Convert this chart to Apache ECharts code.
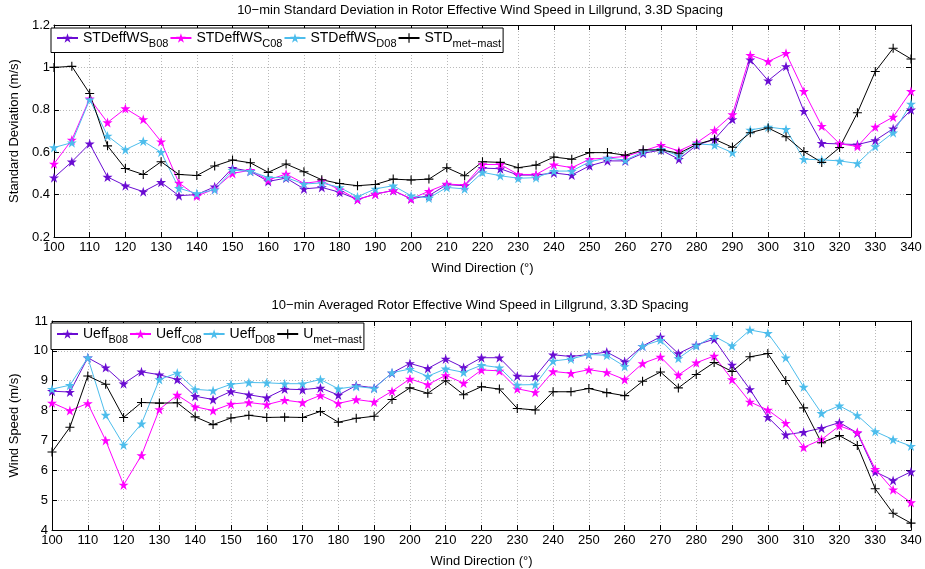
<!DOCTYPE html>
<html>
<head>
<meta charset="utf-8">
<script src="https://cdn.jsdelivr.net/npm/echarts@6/dist/echarts.min.js"></script>
<style>html,body{margin:0;padding:0;background:#fff}#c{width:925px;height:569px}</style>
</head>
<body>
<div id="c"></div>
<script>
const directions = [100,105,110,115,120,125,130,135,140,145,150,155,160,165,170,175,180,185,190,195,200,205,210,215,220,225,230,235,240,245,250,255,260,265,270,275,280,285,290,295,300,305,310,315,320,325,330,335,340];
const xTicks = {min: 100, max: 340, interval: 10};

const stdB08 = [0.48,0.555,0.64,0.483,0.442,0.414,0.458,0.395,0.40,0.437,0.525,0.51,0.462,0.478,0.427,0.434,0.411,0.377,0.403,0.419,0.38,0.395,0.447,0.442,0.525,0.522,0.492,0.492,0.502,0.492,0.536,0.559,0.559,0.595,0.61,0.567,0.633,0.661,0.755,1.036,0.9375,1.005,0.794,0.642,0.639,0.636,0.656,0.711,0.80];
const stdC08 = [0.545,0.658,0.853,0.74,0.806,0.755,0.65,0.455,0.393,0.427,0.50,0.515,0.469,0.497,0.453,0.464,0.423,0.377,0.402,0.42,0.38,0.416,0.45,0.445,0.542,0.542,0.495,0.495,0.541,0.527,0.567,0.573,0.58,0.606,0.633,0.606,0.645,0.703,0.778,1.058,1.028,1.067,0.8875,0.723,0.64,0.627,0.719,0.766,0.8875];
const stdD08 = [0.622,0.645,0.848,0.677,0.612,0.652,0.60,0.43,0.405,0.423,0.515,0.51,0.481,0.481,0.45,0.455,0.434,0.39,0.427,0.442,0.395,0.384,0.434,0.427,0.505,0.489,0.477,0.48,0.511,0.511,0.555,0.573,0.5625,0.602,0.614,0.583,0.639,0.634,0.598,0.705,0.719,0.708,0.567,0.564,0.559,0.547,0.627,0.692,0.828];
const stdMast = [1.0,1.005,0.877,0.63,0.523,0.495,0.555,0.495,0.49,0.535,0.563,0.55,0.505,0.544,0.508,0.47,0.452,0.442,0.448,0.473,0.469,0.473,0.527,0.489,0.555,0.552,0.527,0.539,0.577,0.567,0.598,0.598,0.586,0.611,0.611,0.595,0.637,0.661,0.623,0.692,0.714,0.673,0.603,0.552,0.622,0.786,0.981,1.09,1.04];

const ueffB08 = [8.65,8.62,9.77,9.44,8.9,9.30,9.20,9.04,8.48,8.37,8.64,8.53,8.43,8.72,8.7,8.76,8.52,8.84,8.76,9.26,9.58,9.41,9.73,9.44,9.77,9.77,9.16,9.14,9.87,9.81,9.88,9.96,9.64,10.16,10.47,9.91,10.2,10.39,9.53,8.71,7.78,7.19,7.28,7.41,7.6,7.25,5.95,5.66,5.95];
const ueffC08 = [8.26,8.0,8.24,7.0,5.51,6.5,8.04,8.52,8.13,8.0,8.22,8.27,8.2,8.35,8.27,8.51,8.24,8.37,8.29,8.65,9.06,8.87,9.18,8.92,9.36,9.33,8.73,8.61,9.31,9.25,9.37,9.28,9.04,9.58,9.80,9.19,9.6,9.83,9.04,8.29,8.02,7.58,6.77,7.03,7.49,7.27,6.04,5.35,4.92];
const ueffD08 = [8.72,8.85,9.77,7.85,6.85,7.56,9.04,9.26,8.71,8.67,8.88,8.94,8.93,8.9,8.9,9.04,8.73,8.81,8.74,9.27,9.39,9.15,9.4,9.28,9.52,9.44,8.86,8.87,9.66,9.73,9.88,9.85,9.48,10.16,10.36,9.75,10.17,10.49,10.17,10.70,10.59,9.77,8.79,7.91,8.16,7.84,7.3,7.03,6.81];
const uMast = [6.61,7.44,9.16,8.88,7.77,8.27,8.25,8.26,7.79,7.53,7.75,7.84,7.77,7.78,7.77,7.97,7.61,7.74,7.81,8.37,8.76,8.58,9.0,8.53,8.8,8.72,8.07,8.02,8.63,8.63,8.74,8.6,8.5,8.98,9.29,8.76,9.21,9.61,9.31,9.8,9.91,9.01,8.09,6.92,7.16,6.83,5.38,4.56,4.23];

const topTitle = '10\u2212min Standard Deviation in Rotor Effective Wind Speed in Lillgrund, 3.3D Spacing';
const botTitle = '10\u2212min Averaged Rotor Effective Wind Speed in Lillgrund, 3.3D Spacing';
const topNames = ['STDeffWS_B08','STDeffWS_C08','STDeffWS_D08','STD_met\u2212mast'];
const botNames = ['Ueff_B08','Ueff_C08','Ueff_D08','U_met\u2212mast'];
const topY = {min: 0.2, max: 1.2, interval: 0.2, name: 'Standard Deviation (m/s)'};
const botY = {min: 4, max: 11, interval: 1, name: 'Wind Speed (m/s)'};
const xName = 'Wind Direction (\u00b0)';

const FONT = '"Liberation Sans", Arial, Helvetica, sans-serif';
const C_B = '#6a0cd2', C_C = '#ff00ff', C_D = '#4dbdec', C_M = '#000000';
const STAR = 'path://M50,0 L61.23,34.55 L97.55,34.55 L68.16,55.9 L79.39,90.45 L50,69.1 L20.61,90.45 L31.84,55.9 L2.45,34.55 L38.77,34.55 Z';
const PLUS = 'path://M4.4,0 L5.6,0 L5.6,4.4 L10,4.4 L10,5.6 L5.6,5.6 L5.6,10 L4.4,10 L4.4,5.6 L0,5.6 L0,4.4 L4.4,4.4 Z';

const grids = [
  {left: 48, top: 25, width: 863, height: 212},
  {left: 48, top: 321, width: 863, height: 212}
];

function xAxes(g) {
  const common = {gridIndex: g, type: 'value', min: xTicks.min, max: xTicks.max, interval: xTicks.interval,
    axisLine: {show: true, onZero: false, lineStyle: {color: '#000', width: 1}},
    axisTick: {show: true, inside: true, length: 5, lineStyle: {color: '#000', width: 1}}};
  return [
    Object.assign({}, common, {position: 'bottom', name: xName, nameLocation: 'middle', nameGap: 25,
      nameTextStyle: {fontSize: 13, color: '#000', fontFamily: FONT},
      axisLabel: {fontSize: 13, color: '#000', fontFamily: FONT, margin: 4},
      splitLine: {show: true, lineStyle: {color: '#b8b8b8', width: 1, type: [1, 2]}}}),
    Object.assign({}, common, {position: 'top', axisLabel: {show: false}, splitLine: {show: false}})
  ];
}
function yAxes(g, y) {
  const common = {gridIndex: g, type: 'value', min: y.min, max: y.max, interval: y.interval,
    axisLine: {show: true, onZero: false, lineStyle: {color: '#000', width: 1}},
    axisTick: {show: true, inside: true, length: 5, lineStyle: {color: '#000', width: 1}}};
  return [
    Object.assign({}, common, {position: 'left', name: y.name, nameLocation: 'middle', nameGap: 31,
      nameTextStyle: {fontSize: 13, color: '#000', fontFamily: FONT},
      axisLabel: {fontSize: 13, color: '#000', fontFamily: FONT, margin: 4,
        formatter: v => String(Math.round(v * 10) / 10)},
      splitLine: {show: true, lineStyle: {color: '#b8b8b8', width: 1, type: [1, 2]}}}),
    Object.assign({}, common, {position: 'right', axisLabel: {show: false}, splitLine: {show: false}})
  ];
}

function mk(name, vals, color, sym, xi, yi) {
  return {
    name: name, type: 'line', xAxisIndex: xi, yAxisIndex: yi,
    data: directions.map((d, i) => [d, vals[i]]),
    symbol: sym, symbolSize: sym === STAR ? 10 : 9, showAllSymbol: true,
    lineStyle: {color: color, width: 1}, itemStyle: {color: color},
    emphasis: {disabled: true}, animation: false
  };
}

function legendFor(names, top, padV) {
  return {
    data: names, left: 51, top: top, orient: 'horizontal',
    itemWidth: 21, itemHeight: 12, itemGap: 1,
    padding: [padV, 2, padV, 5],
    borderColor: '#000', borderWidth: 1, backgroundColor: '#fff',
    selectedMode: false,
    formatter: n => { const p = n.split('_'); return '{m|' + p[0] + '}{s|' + p[1] + '}'; },
    textStyle: {color: '#000', fontFamily: FONT, rich: {
      m: {fontSize: 14, fontFamily: FONT, color: '#000'},
      s: {fontSize: 11, fontFamily: FONT, color: '#000', padding: [12, 0, 0, 0]}
    }}
  };
}

const chart = echarts.init(document.getElementById('c'), null, {renderer: 'canvas'});
chart.setOption({
  animation: false,
  backgroundColor: '#fff',
  grid: grids,
  xAxis: xAxes(0).concat(xAxes(1)),
  yAxis: yAxes(0, topY).concat(yAxes(1, botY)),
  legend: [legendFor(topNames, 28, 3), legendFor(botNames, 323, 4)],
  graphic: [
    {type: 'text', x: 480, y: 10, style: {text: topTitle, align: 'center', verticalAlign: 'middle', fontSize: 13, fontFamily: FONT, fill: '#000'}},
    {type: 'text', x: 480, y: 305, style: {text: botTitle, align: 'center', verticalAlign: 'middle', fontSize: 13, fontFamily: FONT, fill: '#000'}}
  ],
  series: [
    mk(topNames[0], stdB08, C_B, STAR, 0, 0),
    mk(topNames[1], stdC08, C_C, STAR, 0, 0),
    mk(topNames[2], stdD08, C_D, STAR, 0, 0),
    mk(topNames[3], stdMast, C_M, PLUS, 0, 0),
    mk(botNames[0], ueffB08, C_B, STAR, 2, 2),
    mk(botNames[1], ueffC08, C_C, STAR, 2, 2),
    mk(botNames[2], ueffD08, C_D, STAR, 2, 2),
    mk(botNames[3], uMast, C_M, PLUS, 2, 2)
  ]
});
</script>
</body>
</html>
